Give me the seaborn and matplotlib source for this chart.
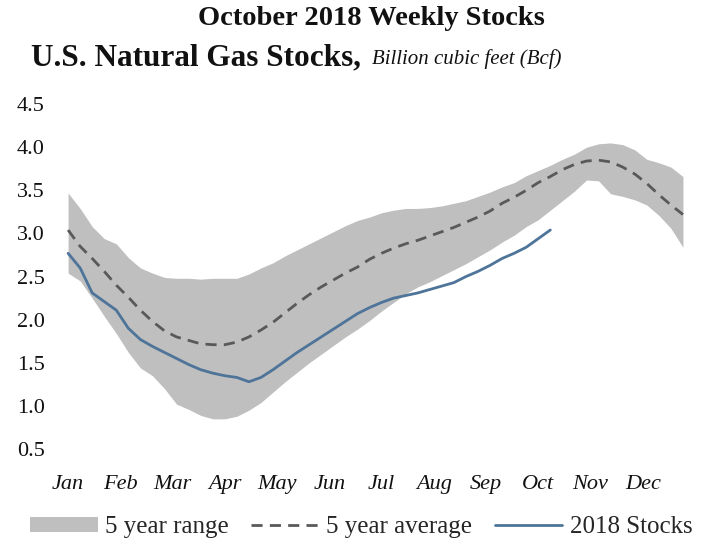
import matplotlib
matplotlib.use("Agg")
import matplotlib.pyplot as plt
import seaborn as sns
import numpy as np
import pandas as pd

# Weekly storage levels (thousand Bcf), week 0 = first week of January
range_high = [3.47, 3.29, 3.08, 2.94, 2.88, 2.72, 2.60, 2.54, 2.49, 2.48,
              2.48, 2.47, 2.48, 2.48, 2.48, 2.53, 2.60, 2.66, 2.74, 2.81,
              2.88, 2.95, 3.02, 3.09, 3.15, 3.19, 3.24, 3.27, 3.29, 3.29,
              3.30, 3.32, 3.35, 3.38, 3.43, 3.48, 3.54, 3.59, 3.67, 3.73,
              3.79, 3.86, 3.92, 4.00, 4.04, 4.05, 4.03, 3.97, 3.86, 3.82,
              3.77, 3.66]
range_low = [2.54, 2.45, 2.25, 2.04, 1.84, 1.62, 1.44, 1.35, 1.20, 1.02,
             0.96, 0.89, 0.85, 0.85, 0.88, 0.95, 1.04, 1.16, 1.28, 1.39,
             1.50, 1.60, 1.70, 1.80, 1.89, 1.99, 2.10, 2.20, 2.30, 2.38,
             2.44, 2.51, 2.58, 2.65, 2.73, 2.81, 2.90, 2.98, 3.08, 3.16,
             3.27, 3.38, 3.49, 3.62, 3.61, 3.46, 3.43, 3.39, 3.33, 3.21,
             3.06, 2.84]
five_year_avg = [3.04, 2.85, 2.71, 2.56, 2.40, 2.26, 2.11, 1.98, 1.87, 1.80,
                 1.76, 1.72, 1.71, 1.71, 1.74, 1.80, 1.88, 1.97, 2.08, 2.19,
                 2.29, 2.38, 2.46, 2.54, 2.61, 2.70, 2.77, 2.83, 2.88, 2.92,
                 2.97, 3.02, 3.07, 3.13, 3.19, 3.26, 3.35, 3.42, 3.50, 3.59,
                 3.66, 3.74, 3.80, 3.84, 3.85, 3.83, 3.77, 3.69, 3.58, 3.45,
                 3.33, 3.22]
stocks_2018 = [2.77, 2.60, 2.31, 2.21, 2.11, 1.90, 1.77, 1.69, 1.62, 1.55,
               1.48, 1.42, 1.38, 1.35, 1.33, 1.28, 1.33, 1.42, 1.52, 1.62,
               1.71, 1.80, 1.89, 1.98, 2.07, 2.14, 2.20, 2.25, 2.28, 2.31,
               2.35, 2.39, 2.43, 2.50, 2.56, 2.63, 2.71, 2.77, 2.84, 2.94,
               3.04]
months = ["Jan", "Feb", "Mar", "Apr", "May", "Jun",
          "Jul", "Aug", "Sep", "Oct", "Nov", "Dec"]
y_ticks = [0.5, 1.0, 1.5, 2.0, 2.5, 3.0, 3.5, 4.0, 4.5]

weeks = np.arange(len(five_year_avg))
hist = pd.DataFrame({"week": weeks, "high": range_high,
                     "low": range_low, "avg": five_year_avg})
cur = pd.DataFrame({"week": np.arange(len(stocks_2018)), "stocks": stocks_2018})

sns.set_theme(style="white")
plt.rcParams["font.family"] = ["Liberation Serif", "DejaVu Serif"]

fig = plt.figure(figsize=(7.11, 5.44), dpi=100)
ax = fig.add_axes([0.0788, 0.1746, 0.8987, 0.634])

ax.fill_between(hist["week"], hist["low"], hist["high"],
                color="#BFBFBF", linewidth=0, label="5 year range")
sns.lineplot(data=hist, x="week", y="avg", ax=ax, color="#595959",
             linewidth=2.0, label="5 year average")
ax.lines[-1].set_dashes([4.0, 2.6])
sns.lineplot(data=cur, x="week", y="stocks", ax=ax, color="#4E7499",
             linewidth=2.0, label="2018 Stocks")

ax.set_xlim(-1, 52)
ax.set_ylim(0.5, 4.5)
month_pos = [i * 52 / 12 for i in range(12)]
ax.set_xticks(month_pos)
ax.set_xticklabels(months, fontsize=16, style="italic")
ax.set_yticks(y_ticks)
ax.set_yticklabels([f"{v:.1f}" for v in y_ticks], fontsize=16)
ax.tick_params(axis="x", length=0, pad=19, colors="#111111")
ax.tick_params(axis="y", length=0, pad=8, colors="#111111")
ax.set_xlabel("")
ax.set_ylabel("")
for s in ax.spines.values():
    s.set_visible(False)
ax.grid(False)

handles, labels = ax.get_legend_handles_labels()
ax.get_legend().remove()
fig.legend(handles, labels, loc="center", bbox_to_anchor=(0.508, 0.031),
           ncol=3, frameon=False, fontsize=18, handlelength=2.7,
           handleheight=0.55, columnspacing=0.9, handletextpad=0.3,
           borderpad=0.1)

fig.text(0.522, 0.966, "October 2018 Weekly Stocks", ha="center", va="center",
         fontsize=20.5, fontweight="bold", color="#111111")
fig.text(0.043, 0.893, "U.S. Natural Gas Stocks,", ha="left", va="center",
         fontsize=22.5, fontweight="bold", color="#111111")
fig.text(0.523, 0.891, "Billion cubic feet (Bcf)", ha="left", va="center",
         fontsize=15, style="italic", color="#111111")

fig.savefig("out.png", dpi=100)
